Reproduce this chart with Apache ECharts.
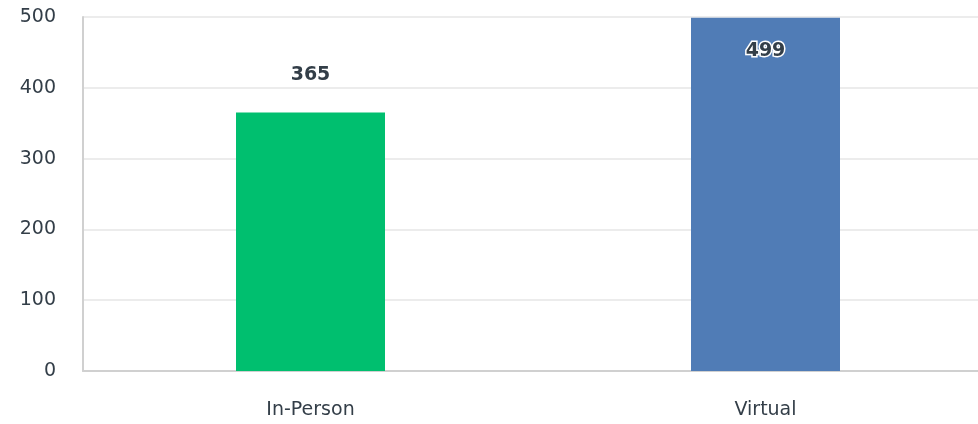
<!DOCTYPE html>
<html><head><meta charset="utf-8">
<script src="https://cdn.jsdelivr.net/npm/echarts@6/dist/echarts.min.js"></script>
<style>html,body{margin:0;padding:0;background:#fff;overflow:hidden;width:978px;height:424px}#c{width:993px;height:424px}</style>
</head><body><div id="c"></div>
<script>
const categories = ["In-Person", "Virtual"];
const values = [365, 499];
const colors = ["#00BF6F", "#507CB6"];
const yTicks = { min: 0, max: 500, interval: 100 };

const chart = echarts.init(document.getElementById('c'), null, {renderer: 'canvas'});
chart.setOption({
  animation: false,
  grid: { left: 83, right: 0, top: 17, bottom: 53 },
  xAxis: {
    type: 'category', data: categories,
    axisLine: { lineStyle: { color: '#d0d0d0', width: 2 } },
    axisTick: { show: false },
    axisLabel: { color: '#333e48', fontSize: 19, margin: 30, fontFamily: 'DejaVu Sans' }
  },
  yAxis: {
    type: 'value', min: yTicks.min, max: yTicks.max, interval: yTicks.interval,
    axisLine: { show: true, lineStyle: { color: '#d0d0d0', width: 2 } },
    axisTick: { show: false },
    splitLine: { lineStyle: { color: '#ececec', width: 2 } },
    axisLabel: { color: '#333e48', fontSize: 19, margin: 27, fontFamily: 'DejaVu Sans', padding: [6, 0, 0, 0] }
  },
  series: [{
    type: 'bar', barWidth: 149,
    data: values.map((v, i) => ({
      value: v,
      itemStyle: { color: colors[i] },
      label: i === 1 ? { position: 'insideTop', distance: 24, textBorderColor: '#fff', textBorderWidth: 3 } : { position: 'top', distance: 28 }
    })),
    label: { show: true, color: '#333e48', fontSize: 19, fontWeight: 'bold', fontFamily: 'DejaVu Sans' }
  }]
});
</script></body></html>
